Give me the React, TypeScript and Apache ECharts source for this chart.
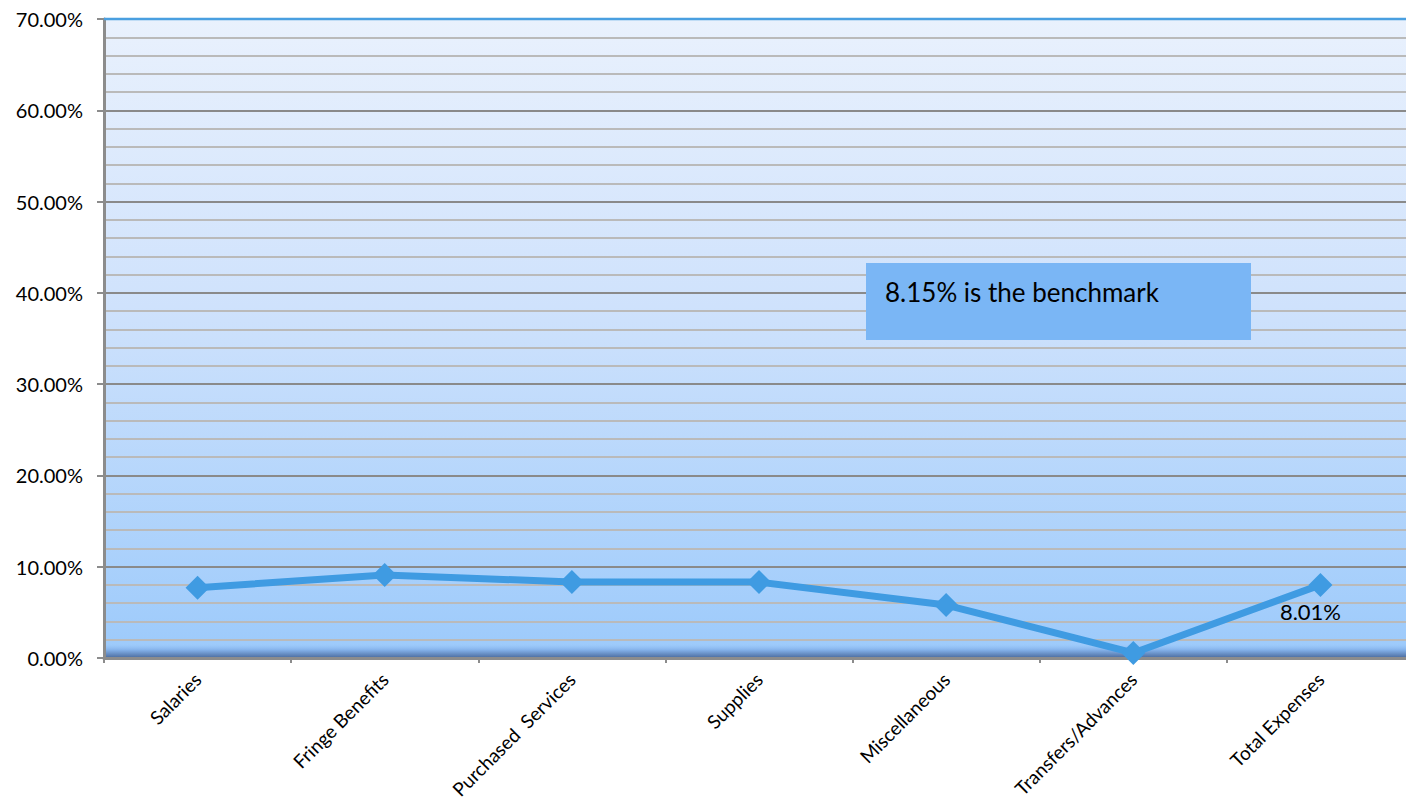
import React, { useEffect, useRef } from "react";
import * as echarts from "echarts";

const categories = [
  "Salaries",
  "Fringe Benefits",
  "Purchased  Services",
  "Supplies",
  "Miscellaneous",
  "Transfers/Advances",
  "Total Expenses",
];
const values = [7.7, 9.1, 8.32, 8.32, 5.8, 0.55, 8.01];
const yTicks = { min: 0, max: 70, interval: 10 };
const benchmarkText = "8.15% is the benchmark";
const labelledIndex = 6;

const FONT = "Lato, 'Open Sans', sans-serif";
const W = 1414;
const H = 809;

export default function App() {
  const ref = useRef<HTMLDivElement>(null);
  useEffect(() => {
    if (!ref.current) return;
    const chart = echarts.init(ref.current, undefined, { renderer: "svg" });
    const gl = 104, gt = 19, gr = W, gb = 658;
    chart.setOption({
      animation: false,
      grid: { left: gl, top: gt, right: W - gr, bottom: H - gb, containLabel: false },
      graphic: [
        {
          type: "rect",
          z: -10,
          silent: true,
          shape: { x: gl, y: gt, width: gr - gl, height: gb - gt },
          style: {
            fill: new echarts.graphic.LinearGradient(0, 0, 0, 1, [
              { offset: 0, color: "#e9f1fd" },
              { offset: 0.45, color: "#cfe2fc" },
              { offset: 1, color: "#9ccafb" },
            ]),
          },
        },
        {
          type: "rect",
          z: 0,
          silent: true,
          shape: { x: gl, y: gb - 14, width: gr - gl, height: 14 },
          style: {
            fill: new echarts.graphic.LinearGradient(0, 0, 0, 1, [
              { offset: 0, color: "rgba(150,195,245,0)" },
              { offset: 0.4, color: "#86b4ec" },
              { offset: 1, color: "#4a6a9c" },
            ]),
          },
        },
        {
          type: "line",
          z: 5,
          silent: true,
          shape: { x1: gl, y1: gt, x2: gr, y2: gt },
          style: { stroke: "#4a9fe0", lineWidth: 2.5 },
        },
        {
          type: "rect",
          z: 20,
          silent: true,
          shape: { x: 866, y: 263, width: 385, height: 77 },
          style: { fill: "#7ab6f5" },
        },
        {
          type: "text",
          z: 21,
          silent: true,
          x: 885,
          y: 292,
          style: {
            text: benchmarkText,
            fill: "#000",
            font: `26px ${FONT}`,
            verticalAlign: "middle",
          },
        },
      ],
      xAxis: {
        type: "category",
        data: categories,
        boundaryGap: true,
        axisLine: { show: true, lineStyle: { color: "#8c8c8c", width: 3 } },
        axisTick: { show: true, length: 5, lineStyle: { color: "#8c8c8c", width: 2 } },
        axisLabel: {
          rotate: 45,
          interval: 0,
          margin: 18,
          color: "#000",
          fontSize: 19,
          fontFamily: FONT,
        },
        splitLine: { show: false },
      },
      yAxis: {
        type: "value",
        min: yTicks.min,
        max: yTicks.max,
        interval: yTicks.interval,
        axisLine: { show: true, lineStyle: { color: "#8c8c8c", width: 3 } },
        axisTick: { show: true, length: 7, lineStyle: { color: "#8c8c8c", width: 2 } },
        axisLabel: {
          margin: 21,
          color: "#000",
          fontSize: 20,
          fontFamily: FONT,
          formatter: (v: number) => `${v.toFixed(2)}%`,
        },
        splitLine: { show: true, lineStyle: { color: "#8a8a8a", width: 2 } },
        minorTick: { show: false, splitNumber: 5 },
        minorSplitLine: { show: true, lineStyle: { color: "#bababa", width: 2 } },
      },
      series: [
        {
          type: "line",
          data: values.map((v, i) =>
            i === labelledIndex
              ? {
                  value: v,
                  label: {
                    show: true,
                    position: "bottom",
                    distance: 4,
                    offset: [-10, 0],
                    formatter: (p: any) => `${p.value.toFixed(2)}%`,
                    color: "#000",
                    fontSize: 22,
                    fontFamily: FONT,
                  },
                }
              : v
          ),
          z: 10,
          symbol: "diamond",
          symbolSize: 24,
          lineStyle: { color: "#3f9be2", width: 7 },
          itemStyle: { color: "#3f9be2" },
        },
      ],
    });
    return () => chart.dispose();
  }, []);
  return (
    <div style={{ position: "fixed", left: 0, top: 0, width: 1406, height: 809, overflow: "hidden", background: "#fff" }}>
      <div ref={ref} style={{ width: W, height: H }} />
    </div>
  );
}
